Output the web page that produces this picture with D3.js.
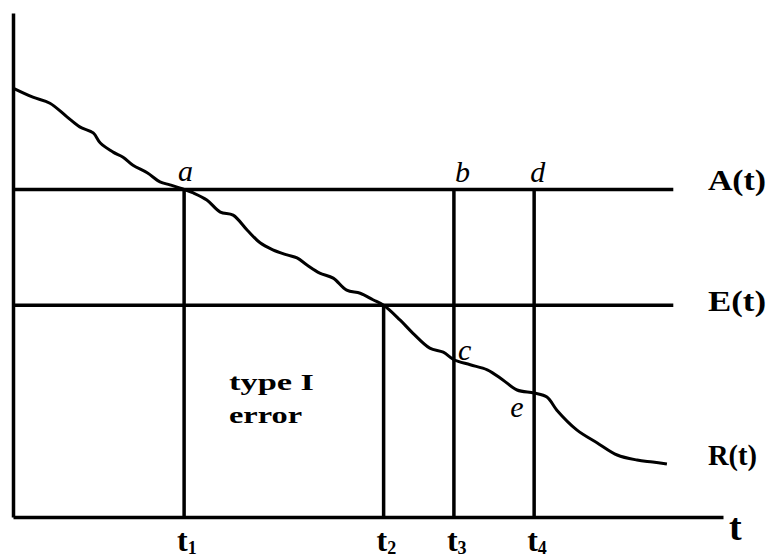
<!DOCTYPE html>
<html>
<head>
<meta charset="utf-8">
<script src="https://cdn.jsdelivr.net/npm/d3@7"></script>
<style>
  body { margin: 0; background: #fff; }
  .domain { stroke: #000; stroke-width: 3.5; }
  .line { fill: none; stroke: #000; stroke-width: 3.5; }
  .curve { fill: none; stroke: #000; stroke-width: 3; stroke-linejoin: round; }
  text { font-family: "Liberation Serif", "Times New Roman", Times, serif; fill: #000; }
  .bold { font-weight: bold; }
  .pt { font-style: italic; font-size: 30px; }
</style>
</head>
<body>
<div id="chart"></div>
<script>
// thresholds
var levelA = 65; // A(t)
var levelE = 42; // E(t)
var levelEnd = 93; // where the threshold lines stop

// the time marks t1..t4 and the level each vertical line starts from
var tMarks = [24.1, 52.2, 62.1, 73.4];
var tNames = ["1", "2", "3", "4"];
var tTops = [65, 42, 65, 65];

// R(t)
var rTime = [0, 2.8, 5.2, 7.6, 9.4, 11.3, 12.3, 14.1, 15.5, 16.9, 18.9, 20.7, 22.1, 24.1,
  25.4, 27.3, 29.2, 31.0, 33.0, 34.8, 36.6, 38.6, 40.0, 41.4, 43.2, 45.1, 47.0, 48.9,
  50.7, 52.2, 54.5, 56.3, 58.7, 60.6, 62.1, 64.4, 66.8, 69.0, 71.0, 73.4, 75.2, 76.6,
  79.4, 82.3, 85.1, 87.9, 90.1, 92.1];
var rValue = [85.1, 83.3, 82.1, 79.4, 77.4, 76.2, 74.2, 72.4, 71.4, 69.8, 68.3, 66.5, 65.9, 65,
  64.3, 62.9, 60.5, 59.9, 56.9, 54.4, 53.0, 52.0, 51.4, 50.0, 48.4, 47.4, 45.0, 44.4,
  43.1, 42, 39.1, 36.5, 33.5, 32.7, 31.2, 30.2, 29.2, 27.2, 25.2, 24.6, 23.8, 21.2,
  17.3, 14.7, 12.3, 11.3, 10.9, 10.5];

// point letters: which mark and which level
var pointNames = ["a", "b", "d", "c", "e"];
var pointMark = [0, 2, 3, 2, 3];
var pointOnCurve = [false, false, false, true, true];

var seriesNames = ["A(t)", "E(t)", "R(t)"];

drawChart();

function drawChart() {
  var width = 769, height = 560;

  var x = d3.scaleLinear().domain([0, 100]).range([13, 723]);
  var y = d3.scaleLinear().domain([0, 100]).range([517, 13]);

  var data = rTime.map(function(t, i) { return { t: t, v: rValue[i] }; });

  var svg = d3.select("#chart").append("svg")
    .attr("width", width)
    .attr("height", height);

  // axes, no ticks
  svg.append("g")
    .attr("class", "x axis")
    .attr("transform", "translate(0," + y(0) + ")")
    .call(d3.axisBottom(x).tickValues([]).tickSizeOuter(0));

  svg.append("g")
    .attr("class", "y axis")
    .attr("transform", "translate(" + x(0) + ",0)")
    .call(d3.axisLeft(y).tickValues([]).tickSizeOuter(0));

  // threshold lines
  svg.selectAll(".hline")
    .data([levelA, levelE])
    .enter().append("line")
    .attr("class", "line hline")
    .attr("x1", x(0))
    .attr("x2", x(levelEnd))
    .attr("y1", function(d) { return y(d); })
    .attr("y2", function(d) { return y(d); });

  // verticals at t1..t4
  svg.selectAll(".vline")
    .data(tMarks)
    .enter().append("line")
    .attr("class", "line vline")
    .attr("x1", function(d) { return x(d); })
    .attr("x2", function(d) { return x(d); })
    .attr("y1", function(d, i) { return y(tTops[i]); })
    .attr("y2", y(0));

  // R(t)
  var line = d3.line()
    .x(function(d) { return x(d.t); })
    .y(function(d) { return y(d.v); })
    .curve(d3.curveCatmullRom);

  svg.append("path")
    .datum(data)
    .attr("class", "curve")
    .attr("d", line);

  // t labels under the axis
  var tl = svg.selectAll(".tlabel")
    .data(tMarks)
    .enter().append("text")
    .attr("class", "tlabel bold")
    .attr("x", function(d) { return x(d) - 7; })
    .attr("y", 551)
    .style("font-size", "32px");
  tl.append("tspan").text("t");
  tl.append("tspan")
    .attr("dy", 3)
    .style("font-size", "18px")
    .text(function(d, i) { return tNames[i]; });

  svg.append("text")
    .attr("class", "bold")
    .attr("x", 729)
    .attr("y", 540)
    .style("font-size", "38px")
    .text("t");

  // series names on the right
  var nameLevel = [levelA, levelE, rValue[rValue.length - 1]];
  var nameDy = [1, 6, 1];
  svg.selectAll(".sname")
    .data(seriesNames)
    .enter().append("text")
    .attr("class", "sname bold")
    .attr("x", 708)
    .attr("y", function(d, i) { return y(nameLevel[i]) + nameDy[i]; })
    .style("font-size", "29px")
    .attr("textLength", function(d, i) { return i == 2 ? 49 : 58; })
    .attr("lengthAdjust", "spacingAndGlyphs")
    .text(function(d) { return d; });

  // point letters
  var off = { a: [-6, -8], b: [1, -7], d: [-4, -7], c: [4, 0], e: [-24, 24] };
  svg.selectAll(".pt")
    .data(pointNames)
    .enter().append("text")
    .attr("class", "pt")
    .attr("x", function(d, i) { return x(tMarks[pointMark[i]]) + off[d][0]; })
    .attr("y", function(d, i) {
      var t = tMarks[pointMark[i]];
      var v = pointOnCurve[i] ? rValue[rTime.indexOf(t)] : levelA;
      return y(v) + off[d][1];
    })
    .text(function(d) { return d; });

  // type I error
  svg.selectAll(".note")
    .data(["type I", "error"])
    .enter().append("text")
    .attr("class", "note bold")
    .attr("x", 229)
    .attr("y", function(d, i) { return 390 + i * 33; })
    .style("font-size", "24px")
    .attr("textLength", function(d, i) { return i == 0 ? 85 : 73; })
    .attr("lengthAdjust", "spacingAndGlyphs")
    .text(function(d) { return d; });
}
</script>
</body>
</html>
